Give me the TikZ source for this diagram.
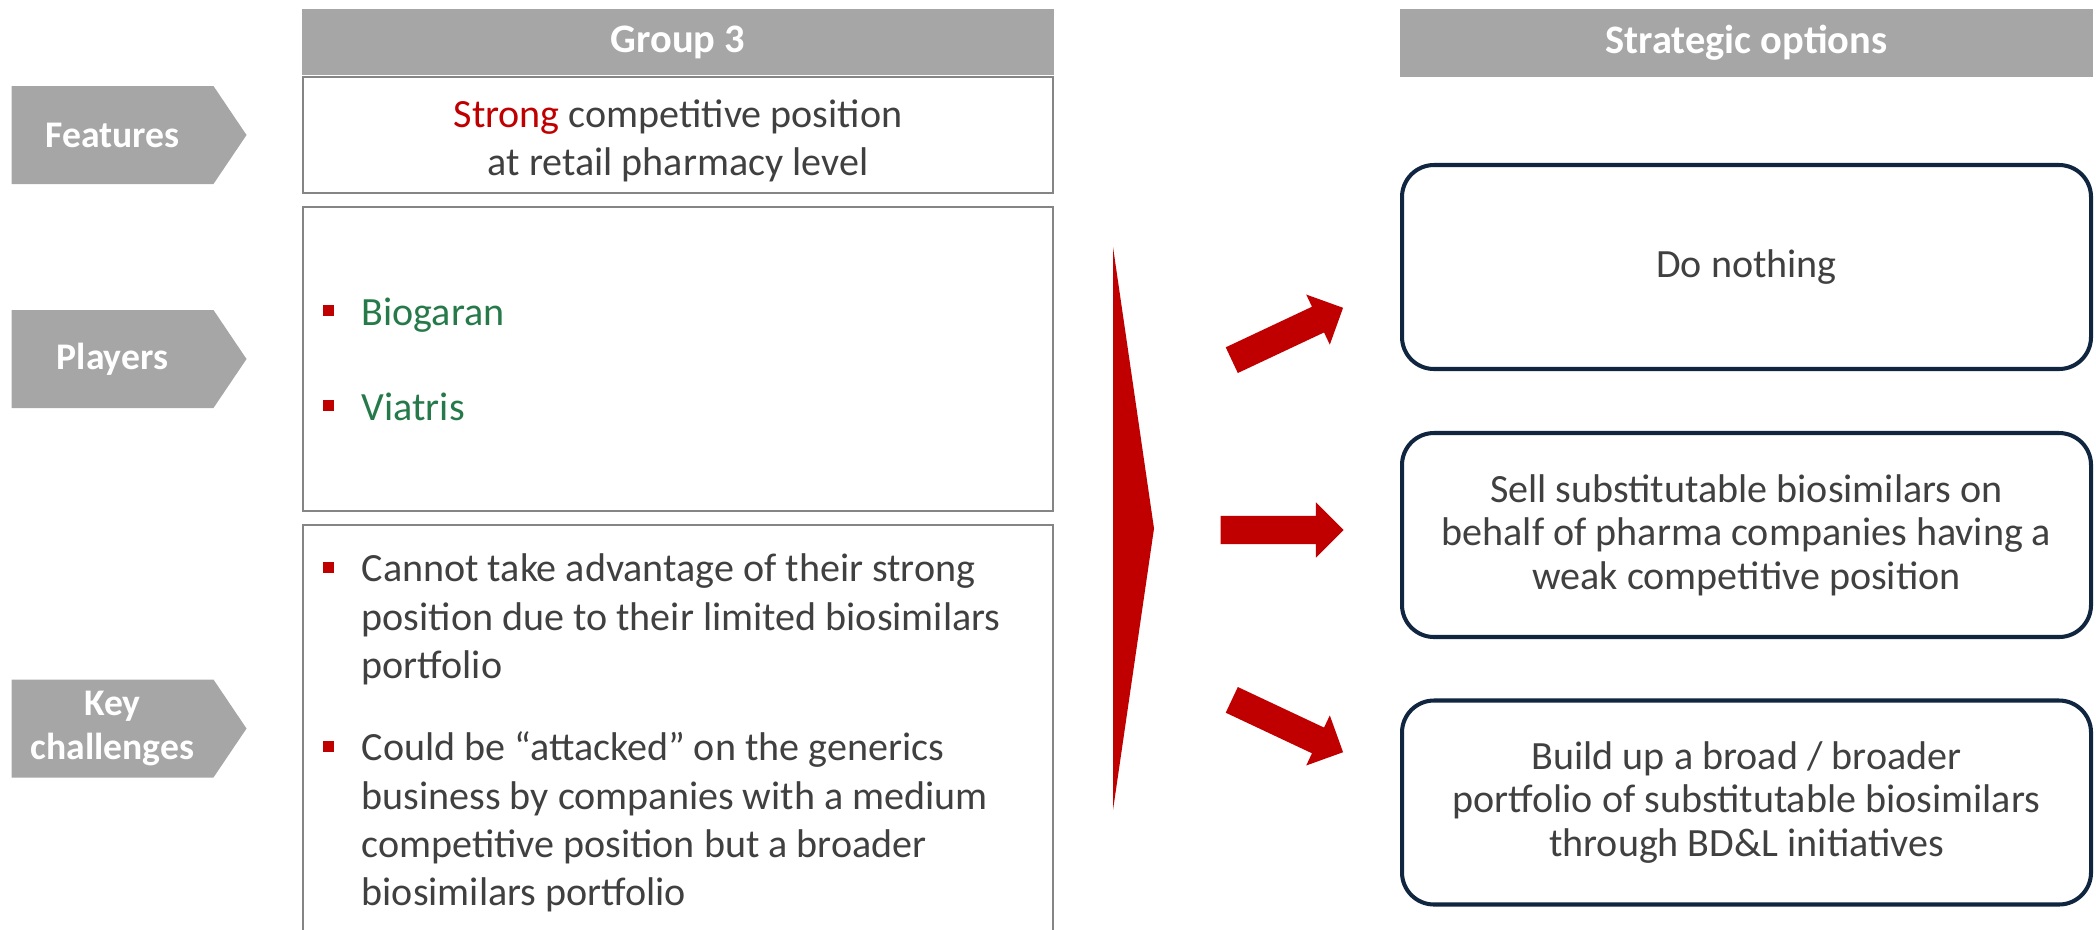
\documentclass[tikz,border=0pt]{standalone}
\usepackage{fontspec}
\setmainfont{Carlito}
\usepackage{tikz}
\usetikzlibrary{shapes.symbols,shapes.arrows}

\definecolor{hdrgray}{HTML}{A6A6A6}
\definecolor{boxgray}{HTML}{858585}
\definecolor{txtgray}{HTML}{404040}
\definecolor{optnavy}{HTML}{10253F}
\definecolor{accred}{HTML}{C00000}
\definecolor{plgreen}{HTML}{267A4A}

\begin{document}
\begin{tikzpicture}[every node/.style={align=center, text=txtgray},
  hdr/.style={fill=hdrgray, text=white, inner sep=0pt, font=\fontsize{11.5pt}{13pt}\selectfont\bfseries},
  colbox/.style={draw=boxgray, line width=0.6pt, minimum width=7.5cm, inner sep=0pt},
  lbl/.style={signal, signal to=east, signal pointer angle=112, fill=hdrgray, text=white, inner sep=0pt,
    minimum width=2.35cm, minimum height=0.98cm, font=\fontsize{10.7pt}{12.6pt}\selectfont\bfseries},
  optbox/.style={draw=optnavy, line width=1.15pt, rounded corners=0.32cm, minimum width=6.89cm,
    minimum height=2.04cm, font=\fontsize{11.4pt}{12.4pt}\selectfont},
  bul/.style={fill=accred, minimum size=0.11cm, inner sep=0pt},
  item/.style={anchor=base west, align=left, inner sep=0pt, font=\fontsize{11.4pt}{13.66pt}\selectfont},
  bigarrow/.style={single arrow, fill=accred, minimum height=1.23cm, inner xsep=0pt, inner ysep=0.135cm,
    single arrow head extend=0.135cm}]
  \useasboundingbox (0,0) rectangle (20.96,-9.29);

  % column headers
  \node[hdr, minimum width=7.52cm, minimum height=0.66cm] (group) at (6.78,-0.42) {Group 3};
  \node[hdr, minimum width=6.93cm, minimum height=0.68cm] (options) at (17.465,-0.43) {Strategic options};

  % row labels
  \node[lbl] (features) at (1.125,-1.35) {Features};
  \node[lbl] (players) at (1.125,-3.59) {Players};
  \node[lbl] (challenges) at (1.125,-7.285) {Key\\challenges};

  % group 3 column
  \node[colbox, minimum height=1.16cm] (featbox) at (6.78,-1.35) {};
  \node[font=\fontsize{11.4pt}{13.66pt}\selectfont] (feattext) at (6.78,-1.41)
    {\textcolor{accred}{Strong} competitive position\\at retail pharmacy level};
  \node[colbox, minimum height=3.04cm] (playbox) at (6.78,-3.59) {};
  \node[colbox, minimum height=4.4cm] (keybox) at (6.78,-7.45) {};

  \node[bul] (b1) at (3.285,-3.105) {};
  \node[item, text=plgreen] (biogaran) at (3.61,-3.25) {Biogaran};
  \node[bul] (b2) at (3.285,-4.055) {};
  \node[item, text=plgreen] (viatris) at (3.61,-4.20) {Viatris};
  \node[bul] (b3) at (3.285,-5.675) {};
  \node[item] (cannot) at (3.61,-6.78)
    {Cannot take advantage of their strong\\position due to their limited biosimilars\\portfolio};
  \node[bul] (b4) at (3.285,-7.465) {};
  \node[item] (attacked) at (3.61,-9.05)
    {Could be ``attacked'' on the generics\\business by companies with a medium\\competitive position but a broader\\biosimilars portfolio};

  % red chevron and arrows
  \fill[accred] (11.13,-2.47) -- (11.54,-5.285) -- (11.13,-8.10) -- cycle;
  \node[bigarrow, rotate=25.2] (arrup) at (12.81,-3.37) {};
  \node[bigarrow] (arrmid) at (12.75,-5.30) {};
  \node[bigarrow, rotate=-25.2] (arrdown) at (12.81,-7.23) {};

  % strategic options
  \node[optbox] (nothing) at (17.465,-2.67) {Do nothing};
  \node[optbox] (sell) at (17.465,-5.35)
    {Sell substitutable biosimilars on\\behalf of pharma companies having a\\weak competitive position};
  \node[optbox] (build) at (17.465,-8.025)
    {Build up a broad / broader\\portfolio of substitutable biosimilars\\through BD\&L initiatives};
\end{tikzpicture}
\end{document}
